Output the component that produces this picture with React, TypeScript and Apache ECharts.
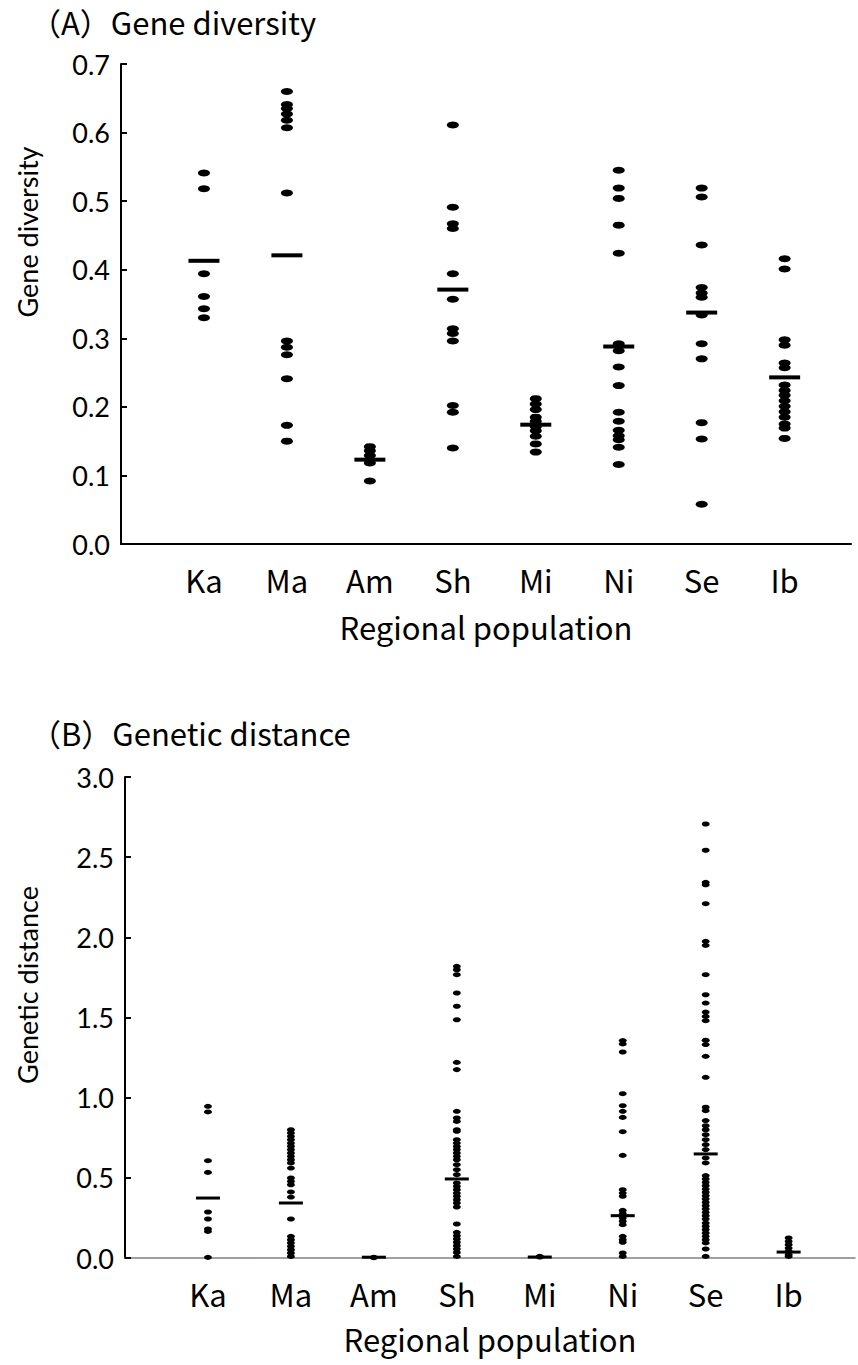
import React, { useEffect, useRef } from "react";
import * as echarts from "echarts";

const categories = ["Ka", "Ma", "Am", "Sh", "Mi", "Ni", "Se", "Ib"];

// (A) Gene diversity, per regional population
const diversityKa = [0.541, 0.518, 0.394, 0.361, 0.343, 0.33];
const diversityMa = [0.66, 0.641, 0.635, 0.627, 0.618, 0.607, 0.512, 0.296, 0.287, 0.276, 0.241, 0.173, 0.15];
const diversityAm = [0.142, 0.136, 0.129, 0.123, 0.118, 0.092];
const diversitySh = [0.611, 0.491, 0.467, 0.46, 0.394, 0.357, 0.314, 0.307, 0.296, 0.202, 0.192, 0.14];
const diversityMi = [0.212, 0.204, 0.196, 0.185, 0.179, 0.171, 0.165, 0.157, 0.146, 0.134];
const diversityNi = [0.545, 0.519, 0.504, 0.465, 0.424, 0.292, 0.282, 0.258, 0.231, 0.192, 0.179, 0.166, 0.158, 0.152, 0.141, 0.116];
const diversitySe = [0.519, 0.506, 0.436, 0.374, 0.366, 0.36, 0.334, 0.292, 0.27, 0.177, 0.153, 0.058];
const diversityIb = [0.416, 0.401, 0.298, 0.29, 0.264, 0.257, 0.232, 0.224, 0.217, 0.209, 0.201, 0.193, 0.185, 0.175, 0.169, 0.154];
const diversityMeans = [0.413, 0.421, 0.123, 0.371, 0.174, 0.288, 0.3375, 0.243];

// (B) Genetic distance, per regional population
const distanceKa = [0.946, 0.911, 0.607, 0.534, 0.287, 0.243, 0.181, 0.166, 0.004];
const distanceMa = [0.8, 0.78, 0.759, 0.738, 0.717, 0.697, 0.676, 0.655, 0.634, 0.613, 0.593, 0.561, 0.499, 0.478, 0.457, 0.412, 0.38, 0.243, 0.135, 0.114, 0.094, 0.073, 0.052, 0.031, 0.01];
const distanceAm = [0.004, 0.002];
const distanceSh = [1.819, 1.798, 1.767, 1.653, 1.57, 1.486, 1.22, 1.175, 0.915, 0.873, 0.852, 0.8, 0.79, 0.738, 0.717, 0.696, 0.676, 0.655, 0.634, 0.613, 0.582, 0.551, 0.52, 0.468, 0.447, 0.426, 0.405, 0.385, 0.364, 0.343, 0.318, 0.212, 0.16, 0.139, 0.119, 0.098, 0.077, 0.056, 0.035, 0.01];
const distanceMi = [0.01, 0.006];
const distanceNi = [1.356, 1.335, 1.285, 1.025, 0.95, 0.915, 0.877, 0.788, 0.64, 0.426, 0.405, 0.385, 0.297, 0.276, 0.249, 0.229, 0.208, 0.135, 0.114, 0.098, 0.031, 0.01];
const distanceSe = [2.707, 2.543, 2.343, 2.328, 2.21, 1.975, 1.95, 1.767, 1.642, 1.59, 1.534, 1.507, 1.48, 1.358, 1.331, 1.258, 1.127, 0.94, 0.919, 0.857, 0.825, 0.8, 0.769, 0.738, 0.707, 0.676, 0.624, 0.593, 0.514, 0.493, 0.472, 0.451, 0.43, 0.41, 0.389, 0.368, 0.347, 0.326, 0.306, 0.285, 0.264, 0.243, 0.218, 0.198, 0.177, 0.156, 0.135, 0.114, 0.094, 0.056, 0.01];
const distanceIb = [0.125, 0.104, 0.083, 0.062, 0.042, 0.021, 0.01];
const distanceMeans = [0.374, 0.343, 0.005, 0.493, 0.006, 0.264, 0.649, 0.037];

const diversityGroups = [diversityKa, diversityMa, diversityAm, diversitySh, diversityMi, diversityNi, diversitySe, diversityIb];
const distanceGroups = [distanceKa, distanceMa, distanceAm, distanceSh, distanceMi, distanceNi, distanceSe, distanceIb];

const toPoints = (groups: number[][]) =>
  groups.flatMap((vals, i) => vals.map((v) => [i + 1, v]));
const meanPoints = (means: number[]) => means.map((v, i) => [i + 1, v]);

const JP = "Noto Sans CJK JP";
const NUM = "Lato";

export default function App() {
  const ref = useRef<HTMLDivElement>(null);
  useEffect(() => {
    if (!ref.current) return;
    const chart = echarts.init(ref.current, undefined, { renderer: "svg" });
    const catLabel = (v: number) =>
      Number.isInteger(v) && v >= 1 && v <= categories.length ? categories[v - 1] : "";
    const xAxisBase = (grid: number, lineColor: string, lineWidth: number, gap: number) => ({
      gridIndex: grid,
      type: "value",
      min: 0,
      max: 8.8,
      interval: 1,
      axisLine: { show: true, onZero: false, lineStyle: { color: lineColor, width: lineWidth } },
      axisTick: { show: false },
      splitLine: { show: false },
      axisLabel: { formatter: catLabel, fontFamily: JP, fontSize: 31, color: "#000", margin: 20 },
      name: "Regional population",
      nameLocation: "middle",
      nameGap: gap,
      nameTextStyle: { fontFamily: JP, fontSize: 31, color: "#000" },
    });
    const yAxisBase = (grid: number, max: number, interval: number) => ({
      gridIndex: grid,
      type: "value",
      min: 0,
      max,
      interval,
      axisLine: { show: true, lineStyle: { color: "#000", width: 2 } },
      axisTick: { show: true, inside: true, length: 6, lineStyle: { color: "#000", width: 2 } },
      splitLine: { show: false },
      axisLabel: {
        formatter: (v: number) => v.toFixed(1),
        fontFamily: NUM,
        fontSize: 27,
        color: "#000",
        margin: 11,
      },
    });
    const titleStyle = { fontFamily: JP, fontSize: 31, fontWeight: "normal", color: "#000" };
    const dot = { color: "#000", opacity: 1 };
    chart.setOption({
      animation: false,
      backgroundColor: "#fff",
      title: [
        { text: "（A）Gene diversity", left: 30, top: 6, padding: 0, textStyle: titleStyle },
        { text: "（B）Genetic distance", left: 30, top: 717, padding: 0, textStyle: titleStyle },
      ],
      grid: [
        { left: 121, top: 64, width: 730, height: 480 },
        { left: 125, top: 777, width: 730, height: 481 },
      ],
      xAxis: [xAxisBase(0, "#000", 2, 67), xAxisBase(1, "#808080", 1.5, 65)],
      yAxis: [yAxisBase(0, 0.7, 0.1), yAxisBase(1, 3, 0.5)],
      graphic: [
        { type: "text", x: 27, y: 232, rotation: Math.PI / 2, style: { text: "Gene diversity", fontFamily: NUM, fontSize: 27, fill: "#000", textAlign: "center", textVerticalAlign: "middle" } },
        { type: "text", x: 27, y: 985, rotation: Math.PI / 2, style: { text: "Genetic distance", fontFamily: NUM, fontSize: 27, fill: "#000", textAlign: "center", textVerticalAlign: "middle" } },
      ],
      series: [
        { type: "scatter", xAxisIndex: 0, yAxisIndex: 0, data: toPoints(diversityGroups), symbol: "circle", symbolSize: [12, 7], itemStyle: dot },
        { type: "scatter", xAxisIndex: 0, yAxisIndex: 0, data: meanPoints(diversityMeans), symbol: "rect", symbolSize: [31, 4], itemStyle: dot, z: 3 },
        { type: "scatter", xAxisIndex: 1, yAxisIndex: 1, data: toPoints(distanceGroups), symbol: "circle", symbolSize: [8, 5], itemStyle: dot },
        { type: "scatter", xAxisIndex: 1, yAxisIndex: 1, data: meanPoints(distanceMeans), symbol: "rect", symbolSize: [24, 3], itemStyle: dot, z: 3 },
      ],
    });
    return () => chart.dispose();
  }, []);
  return <div ref={ref} style={{ position: "absolute", left: 0, top: 0, width: 858, height: 1365 }} />;
}
